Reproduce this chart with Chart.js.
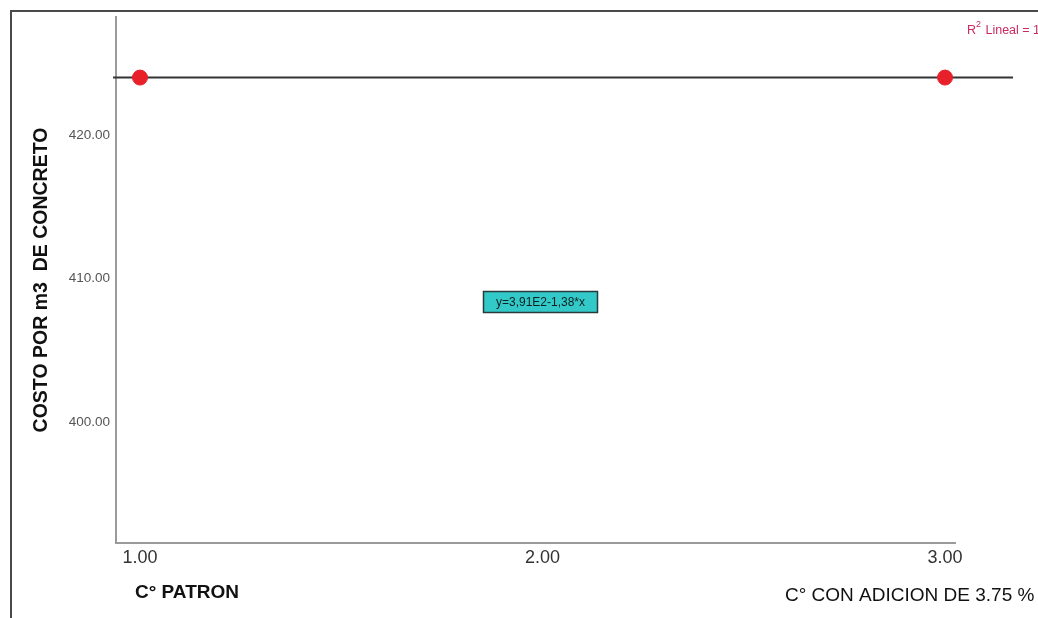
<!DOCTYPE html>
<html>
<head>
<meta charset="utf-8">
<script src="https://cdn.jsdelivr.net/npm/chart.js@4/dist/chart.umd.min.js"></script>
<style>
  html, body { margin: 0; padding: 0; background: #ffffff; }
  #wrap { width: 1038px; height: 618px; position: relative; }
</style>
</head>
<body>
<div id="wrap"><canvas id="c" width="1038" height="618"></canvas></div>
<script>
// Observed groups (1 = C° patrón, 3 = C° con adición de 3.75 %)
const groupX = [1, 3];
// Cost per m3 of concrete for each group
const costValues = [424.0, 424.0];
// Tick values on each axis
const xTicks = [1, 2, 3];
const yTicks = [400, 410, 420];
// Horizontal extent of the fitted line, in x units
const fitRange = [0.933, 3.169];

// Least-squares line through the observed points
function linearFit(xs, ys) {
  const n = xs.length;
  const mx = xs.reduce((a, b) => a + b, 0) / n;
  const my = ys.reduce((a, b) => a + b, 0) / n;
  let sxy = 0, sxx = 0;
  for (let i = 0; i < n; i++) { sxy += (xs[i] - mx) * (ys[i] - my); sxx += (xs[i] - mx) ** 2; }
  const slope = sxx ? sxy / sxx : 0;
  return { slope, intercept: my - slope * mx };
}
const fit = linearFit(groupX, costValues);
const fitPoints = fitRange.map(x => ({ x, y: fit.intercept + fit.slope * x }));
const scatterPoints = groupX.map((x, i) => ({ x, y: costValues[i] }));

const FONT = '"Liberation Sans", Arial, Helvetica, sans-serif';

const decorations = {
  id: 'decorations',
  afterDraw(chart) {
    const ctx = chart.ctx;
    ctx.save();

    // outer frame
    ctx.strokeStyle = '#4a4a4a';
    ctx.lineWidth = 2;
    ctx.strokeRect(11, 11, 1100, 700);

    // vertical axis title
    ctx.save();
    ctx.translate(42, 280);
    ctx.rotate(-Math.PI / 2);
    ctx.fillStyle = '#111';
    ctx.font = 'bold 19.5px ' + FONT;
    ctx.textAlign = 'center';
    ctx.textBaseline = 'middle';
    ctx.fillText('COSTO POR m3  DE CONCRETO', 0, 0);
    ctx.restore();

    // group captions under the horizontal axis
    ctx.fillStyle = '#111';
    ctx.textBaseline = 'middle';
    ctx.textAlign = 'left';
    ctx.font = 'bold 19px ' + FONT;
    ctx.fillText('C° PATRON', 135, 593);
    ctx.font = '19px ' + FONT;
    ctx.fillText('C° CON ADICION DE 3.75 %', 785, 596);

    // R² legend text
    ctx.fillStyle = '#cc2a5e';
    ctx.font = '12.5px ' + FONT;
    ctx.textBaseline = 'alphabetic';
    ctx.fillText('R', 967, 34);
    ctx.font = '9px ' + FONT;
    ctx.fillText('2', 976, 27);
    ctx.font = '12.5px ' + FONT;
    ctx.fillText(' Lineal = 1', 982, 34);

    // equation label box
    const bx = 483, by = 291, bw = 115, bh = 22;
    ctx.fillStyle = '#33c9c9';
    ctx.fillRect(bx, by, bw, bh);
    ctx.strokeStyle = '#2a3a3a';
    ctx.lineWidth = 1.5;
    ctx.strokeRect(bx + 0.5, by + 0.5, bw - 1, bh - 1);
    ctx.fillStyle = '#102020';
    ctx.font = '12px ' + FONT;
    ctx.textAlign = 'center';
    ctx.textBaseline = 'middle';
    ctx.fillText('y=3,91E2-1,38*x', bx + bw / 2, by + bh / 2 + 1);

    ctx.restore();
  }
};

new Chart(document.getElementById('c'), {
  type: 'scatter',
  data: {
    datasets: [
      {
        label: 'Costo',
        data: scatterPoints,
        backgroundColor: '#e8202a',
        borderColor: '#e8202a',
        pointRadius: 7.5,
        pointHoverRadius: 7.5,
        order: 0
      },
      {
        label: 'Lineal',
        data: fitPoints,
        showLine: true,
        borderColor: '#333333',
        borderWidth: 2,
        pointRadius: 0,
        fill: false,
        clip: false,
        order: 1
      }
    ]
  },
  options: {
    responsive: false,
    animation: false,
    events: [],
    layout: { padding: { left: 0, top: 17, right: 83, bottom: 0 } },
    plugins: { legend: { display: false }, tooltip: { enabled: false }, title: { display: false } },
    scales: {
      x: {
        type: 'linear',
        min: 0.9404,
        max: 3.0248,
        afterFit(scale) { scale.height = 75; },
        afterBuildTicks(scale) { scale.ticks = xTicks.map(v => ({ value: v })); },
        grid: { display: false, drawTicks: false, tickLength: 0 },
        border: { display: true, color: '#9a9a9a', width: 2 },
        ticks: {
          padding: 4,
          color: '#333',
          font: { family: FONT, size: 18 },
          maxRotation: 0,
          callback: v => Number(v).toFixed(2)
        }
      },
      y: {
        type: 'linear',
        min: 391.57,
        max: 428.22,
        afterFit(scale) { scale.width = 116; },
        afterBuildTicks(scale) { scale.ticks = yTicks.map(v => ({ value: v })); },
        grid: { display: false, drawTicks: false, tickLength: 0 },
        border: { display: true, color: '#9a9a9a', width: 2 },
        ticks: {
          padding: 6,
          color: '#555',
          font: { family: FONT, size: 13.5 },
          callback: v => Number(v).toFixed(2)
        }
      }
    }
  },
  plugins: [decorations]
});
</script>
</body>
</html>
